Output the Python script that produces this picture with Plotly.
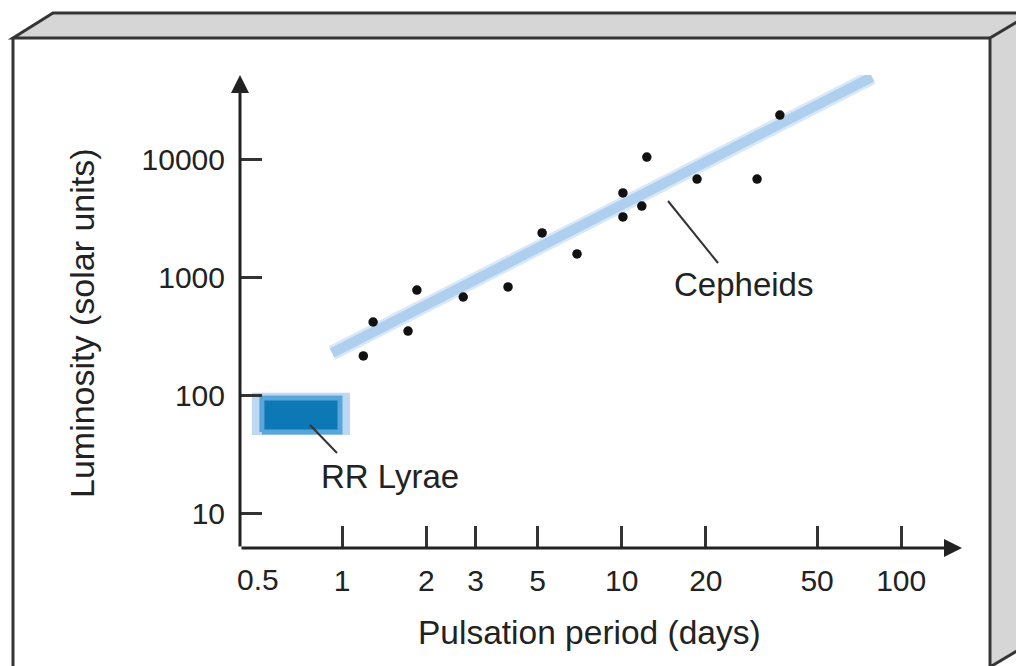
import math
import plotly.graph_objects as go

# ---- data ----
cepheid_period = [1.19, 1.29, 1.72, 1.85, 2.71, 3.92, 5.19, 6.92, 10.1, 10.1, 11.8, 12.3, 18.6, 30.5, 36.8]
cepheid_lum = [216, 420, 352, 785, 685, 834, 2400, 1590, 5250, 3280, 4060, 10600, 6890, 6890, 24100]
fit_period = [0.92, 78.6]
fit_lum = [229, 50700]
rr_period_outer = [0.475, 1.066]
rr_lum_outer = [46, 105]
rr_period_core = [0.516, 0.982]
rr_lum_core = [48.8, 94.8]
x_tickvals = [1, 2, 3, 5, 10, 20, 50, 100]
x_ticktext = ["1", "2", "3", "5", "10", "20", "50", "100"]
y_tickvals = [10, 100, 1000, 10000]
y_ticktext = ["10", "100", "1000", "10000"]

# ---- geometry ----
W, H = 1016, 666
L, R, T, B = 240, 54, 75, 118
PW, PH = W - L - R, H - T - B
FONT = "Liberation Sans, Arial, Helvetica, sans-serif"
TXT = "#222222"
EDGE = "#353535"
FACE = "#d6d6d6"


def px(x):
    return (x - L) / PW


def py(y):
    return (H - B - y) / PH


def rect(xs, ys):
    return [xs[0], xs[1], xs[1], xs[0], xs[0]], [ys[0], ys[0], ys[1], ys[1], ys[0]]


fig = go.Figure()

# RR Lyrae region
ox, oy = rect(rr_period_outer, rr_lum_outer)
fig.add_trace(go.Scatter(x=ox, y=oy, fill="toself", fillcolor="#bcd8f3", mode="lines",
                         line=dict(width=0, color="#bcd8f3"), hoverinfo="skip", showlegend=False))
cx, cy = rect(rr_period_core, rr_lum_core)
fig.add_trace(go.Scatter(x=cx, y=cy, fill="toself", fillcolor="#0c78b6", mode="lines",
                         line=dict(width=5, color="#5aa5da"), hoverinfo="skip", showlegend=False))

# Cepheid relation band
fig.add_trace(go.Scatter(x=fit_period, y=fit_lum, mode="lines",
                         line=dict(width=15, color="#d8e8f9"), hoverinfo="skip", showlegend=False))
fig.add_trace(go.Scatter(x=fit_period, y=fit_lum, mode="lines",
                         line=dict(width=10, color="#afcfef"), hoverinfo="skip", showlegend=False))

# Cepheid points
fig.add_trace(go.Scatter(x=cepheid_period, y=cepheid_lum, mode="markers",
                         marker=dict(size=9.5, color="#111111"), showlegend=False))

shapes = []
# 3D frame: top face
shapes.append(dict(type="path", xref="paper", yref="paper",
                   path=f"M {px(13)},{py(38)} L {px(53)},{py(13)} L {px(1040)},{py(13)} L {px(990)},{py(38)} Z",
                   fillcolor=FACE, line=dict(color=EDGE, width=3), layer="below"))
# right face
shapes.append(dict(type="path", xref="paper", yref="paper",
                   path=f"M {px(990)},{py(38)} L {px(1030)},{py(14)} L {px(1030)},{py(643)} L {px(990)},{py(667)} Z",
                   fillcolor=FACE, line=dict(color=EDGE, width=3), layer="below"))
# front left edge
shapes.append(dict(type="line", xref="paper", yref="paper",
                   x0=px(13), y0=py(37), x1=px(13), y1=py(680),
                   line=dict(color=EDGE, width=3)))
# leader lines
shapes.append(dict(type="line", xref="paper", yref="paper",
                   x0=px(668), y0=py(201), x1=px(718), y1=py(263),
                   line=dict(color="#333333", width=2)))
shapes.append(dict(type="line", xref="paper", yref="paper",
                   x0=px(310), y0=py(425), x1=px(337), y1=py(453),
                   line=dict(color="#333333", width=2)))

annotations = []
# axes with arrowheads
annotations.append(dict(x=px(962), y=py(548), xref="paper", yref="paper", text="",
                        showarrow=True, ax=-(962 - 240), ay=0, arrowhead=2, arrowsize=1.2,
                        arrowwidth=3, arrowcolor="#222222", standoff=0, startstandoff=0))
annotations.append(dict(x=px(240), y=py(75), xref="paper", yref="paper", text="",
                        showarrow=True, ax=0, ay=(548 - 75), arrowhead=2, arrowsize=1.2,
                        arrowwidth=3, arrowcolor="#222222", standoff=0, startstandoff=0))
# extra 0.5 label (no tick mark in reference)
annotations.append(dict(x=math.log10(0.5), y=py(579), xref="x", yref="paper", text="0.5",
                        showarrow=False, xanchor="center", yanchor="middle",
                        font=dict(family=FONT, size=30, color=TXT)))
# labels
annotations.append(dict(x=px(743), y=py(284), xref="paper", yref="paper", text="Cepheids",
                        showarrow=False, xanchor="center", yanchor="middle",
                        font=dict(family=FONT, size=33, color=TXT)))
annotations.append(dict(x=px(390), y=py(476), xref="paper", yref="paper", text="RR Lyrae",
                        showarrow=False, xanchor="center", yanchor="middle",
                        font=dict(family=FONT, size=33, color=TXT)))
# axis titles
annotations.append(dict(x=px(82), y=py(323), xref="paper", yref="paper",
                        text="Luminosity (solar units)", textangle=-90,
                        showarrow=False, xanchor="center", yanchor="middle",
                        font=dict(family=FONT, size=34, color=TXT)))
annotations.append(dict(x=px(589), y=py(632), xref="paper", yref="paper",
                        text="Pulsation period (days)",
                        showarrow=False, xanchor="center", yanchor="middle",
                        font=dict(family=FONT, size=33.5, color=TXT)))

fig.update_layout(
    width=W, height=H,
    margin=dict(l=L, r=R, t=T, b=B, pad=0),
    paper_bgcolor="white", plot_bgcolor="rgba(0,0,0,0)",
    font=dict(family=FONT, color=TXT),
    xaxis=dict(type="log", range=[-0.3657, 2.2175], tickvals=x_tickvals, ticktext=x_ticktext,
               ticks="inside", ticklen=22, tickwidth=3, tickcolor="#333333",
               showgrid=False, zeroline=False, showline=False, ticklabelstandoff=12,
               tickfont=dict(family=FONT, size=30, color=TXT), fixedrange=True),
    yaxis=dict(type="log", range=[0.7026, 4.7223], tickvals=y_tickvals, ticktext=y_ticktext,
               ticks="inside", ticklen=22, tickwidth=3, tickcolor="#333333",
               showgrid=False, zeroline=False, showline=False, ticklabelstandoff=14,
               tickfont=dict(family=FONT, size=30, color=TXT), fixedrange=True),
    shapes=shapes,
    annotations=annotations,
    showlegend=False,
)

fig.write_html("out.html", config={"displayModeBar": False},
               post_script="document.body.style.margin='0px';document.body.style.padding='0px';")
